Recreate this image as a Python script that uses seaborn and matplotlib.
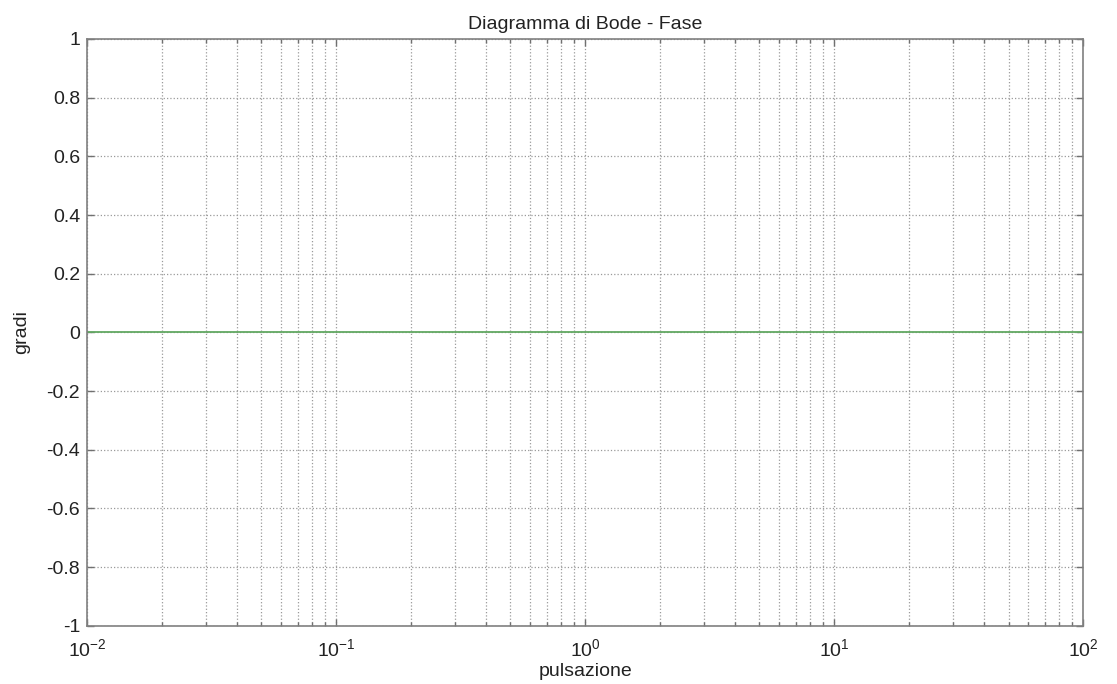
import numpy as np
import pandas as pd
import matplotlib
matplotlib.use("Agg")
import matplotlib.pyplot as plt
import seaborn as sns
from matplotlib.ticker import LogLocator, FixedLocator

# Data
pulsazione = [0.01, 100.0]
fase = [0.0, 0.0]
yticks = [-1, -0.8, -0.6, -0.4, -0.2, 0, 0.2, 0.4, 0.6, 0.8, 1]
ytick_labels = ["-1", "-0.8", "-0.6", "-0.4", "-0.2", "0", "0.2", "0.4", "0.6", "0.8", "1"]

sns.set_style("white")
plt.rcParams['font.family'] = ['Liberation Sans', 'DejaVu Sans']

fig = plt.figure(figsize=(11.17, 6.84), dpi=100)
ax = fig.add_axes([0.078, 0.085, 0.892, 0.858])

df = pd.DataFrame({"pulsazione": pulsazione, "fase": fase})
sns.lineplot(data=df, x="pulsazione", y="fase", ax=ax, color="#62a862", linewidth=1.3)

ax.set_xscale("log")
ax.set_xlim(1e-2, 1e2)
ax.set_ylim(-1, 1)
ax.yaxis.set_major_locator(FixedLocator(yticks))
ax.set_yticklabels(ytick_labels)
ax.xaxis.set_major_locator(LogLocator(base=10, numticks=10))
ax.xaxis.set_minor_locator(LogLocator(base=10, subs=np.arange(2, 10), numticks=100))

ax.grid(True, which="major", axis="both", linestyle=":", color="#9a9a9a", linewidth=0.9)
ax.grid(True, which="minor", axis="x", linestyle=":", color="#9a9a9a", linewidth=0.9)

ax.tick_params(which="both", direction="in", top=True, right=True, bottom=True, left=True,
               color="#707070", labelsize=14, labelcolor="#222222")
ax.tick_params(which="major", length=5, width=1)
ax.tick_params(which="minor", length=3, width=1)
ax.tick_params(axis="x", which="major", pad=9)
ax.tick_params(axis="y", which="major", pad=5)

for s in ax.spines.values():
    s.set_color("#808080")
    s.set_linewidth(1.2)

ax.set_title("Diagramma di Bode - Fase", fontsize=14, color="#222222", pad=7)
ax.set_xlabel("pulsazione", fontsize=14, color="#222222", labelpad=2)
ax.set_ylabel("gradi", fontsize=14, color="#222222", labelpad=12)

fig.savefig("out.png", dpi=100)
